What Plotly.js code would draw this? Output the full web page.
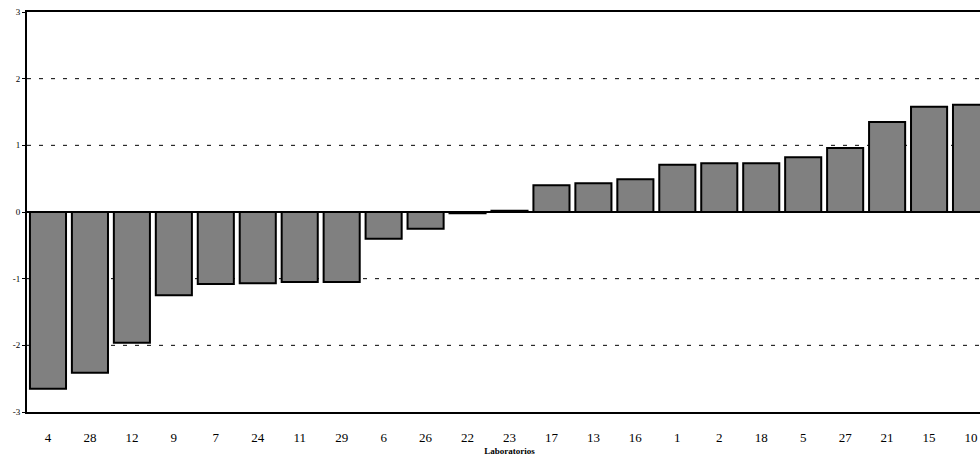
<!DOCTYPE html>
<html>
<head>
<meta charset="utf-8">
<script src="https://cdn.plot.ly/plotly-3.0.1.min.js"></script>
<style>
html, body { margin: 0; padding: 0; overflow: hidden; background: #fff; }
#plot { width: 1000px; height: 465px; }
</style>
</head>
<body>
<div id="plot"></div>
<script>
const labs = ['4', '28', '12', '9', '7', '24', '11', '29', '6', '26', '22', '23',
    '17', '13', '16', '1', '2', '18', '5', '27', '21', '15', '10'];
const zScores = [-2.65, -2.41, -1.96, -1.25, -1.08, -1.07, -1.05, -1.05, -0.40, -0.25, -0.02, 0.02,
    0.40, 0.43, 0.49, 0.71, 0.73, 0.73, 0.82, 0.96, 1.35, 1.58, 1.61];
const yTicks = [-3, -2, -1, 0, 1, 2, 3];
const yTickText = ['-3', '-2', '-1', '0', '1', '2', '3'];

let trace = {
    x: labs,
    y: zScores,
    type: 'bar',
    marker: {
        color: '#808080',
        line: { color: '#000', width: 2 },
    },
    width: 0.86,
    hoverinfo: 'x+y',
};

let shapes = [];
[-2, -1, 1, 2].forEach(function (v) {
    shapes.push({
        type: 'line', xref: 'paper', yref: 'y',
        x0: 0, x1: 1, y0: v, y1: v,
        layer: 'below',
        line: { color: '#000', width: 1, dash: '4px,8px' },
    });
});

let layout = {
    width: 1000,
    height: 465,
    margin: { l: 27, r: 8, t: 12, b: 53 },
    paper_bgcolor: '#fff',
    plot_bgcolor: '#fff',
    showlegend: false,
    font: { family: 'Liberation Serif, Times New Roman, serif', color: '#000' },
    shapes: shapes,
    xaxis: {
        type: 'category',
        showline: true, mirror: true, linecolor: '#000', linewidth: 2,
        ticks: '', tickfont: { size: 13 },
        ticklabelstandoff: 12,
        title: { text: '<b>Laboratorios</b>', font: { size: 9 }, standoff: 4 },
    },
    yaxis: {
        range: [-3, 3],
        tickvals: yTicks,
        ticktext: yTickText,
        ticks: 'outside', ticklen: 3, tickcolor: '#000',
        tickfont: { size: 9 },
        showgrid: false,
        zeroline: true, zerolinecolor: '#000', zerolinewidth: 2,
        showline: true, mirror: true, linecolor: '#000', linewidth: 2,
    },
};

Plotly.newPlot('plot', [trace], layout, { displayModeBar: false, staticPlot: true });
</script>
</body>
</html>
